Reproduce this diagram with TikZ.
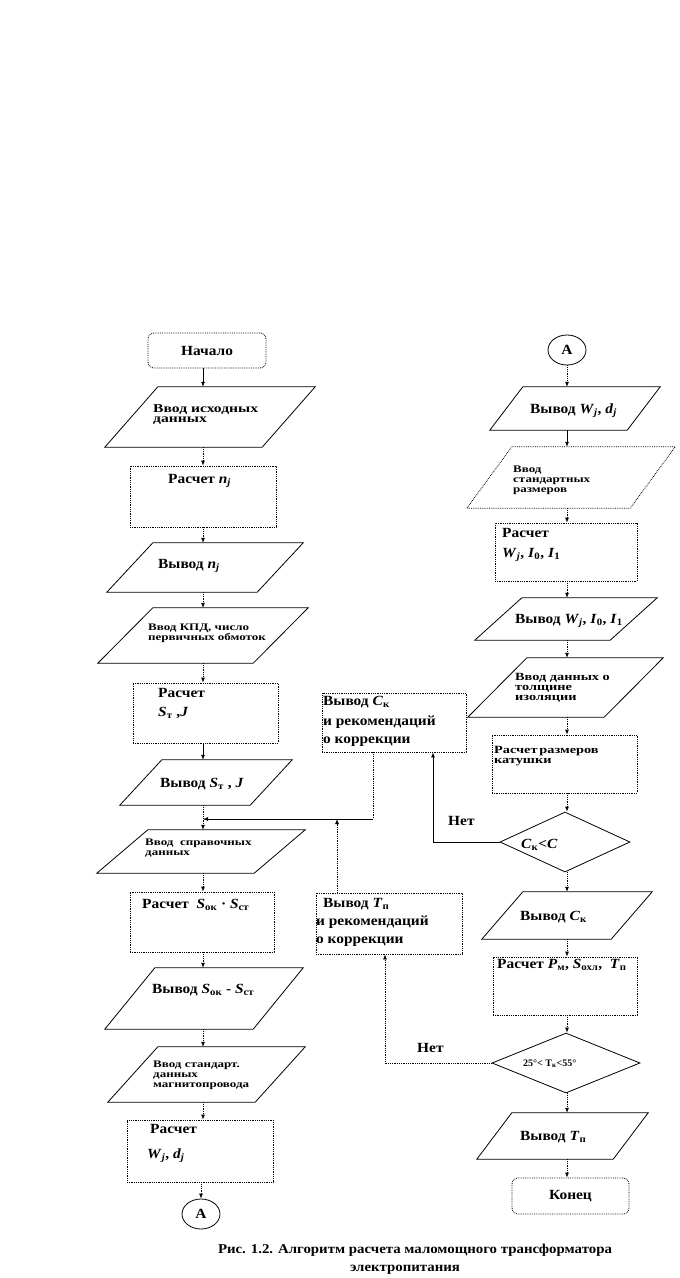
\documentclass[tikz,border=0pt]{standalone}
\usepackage{fontspec}
\setmainfont{Liberation Serif}
\newfontfamily\capfont[FakeStretch=1.1]{Liberation Serif}
\newfontfamily\widefont[FakeStretch=1.3]{Liberation Serif}
\usetikzlibrary{arrows.meta,shapes.geometric}
\newcommand{\fvar}[2]{\textit{#1}\textsubscript{\textit{#2}}}
\newcommand{\rvar}[2]{\textit{#1}\textsubscript{#2}}
% parallelogram drawn on the frame of a named node
\newcommand{\ioframe}[3][]{\draw[thinline,#1] ([xshift=#3]#2.north west) -- (#2.north east) -- ([xshift=-#3]#2.south east) -- (#2.south west) -- cycle;}

\begin{document}
\begin{tikzpicture}[x=1pt,y=-1pt]
\tikzset{
  thinline/.style={line width=0.8pt},
  procbox/.style={rectangle,draw,thinline,densely dotted,inner sep=0},
  termbox/.style={procbox,rounded corners=6pt,font=\capfont\bfseries\fontsize{14}{16}\selectfont},
  iobox/.style={rectangle,inner sep=0},
  decision/.style={diamond,draw,thinline,inner sep=0},
  connector/.style={ellipse,draw,thinline,inner sep=0,font=\capfont\bfseries\fontsize{14}{16}\selectfont},
  bigtext/.style={font=\capfont\bfseries\fontsize{14}{16}\selectfont,anchor=base west,inner sep=0},
  smalltext/.style={font=\widefont\bfseries\fontsize{#1}{10}\selectfont,anchor=north west,inner sep=0,align=left},
  flow/.style={-{Latex[length=5pt,width=4pt]},thinline,densely dotted},
  flowsolid/.style={-{Latex[length=5pt,width=4pt]},thinline}
}
\fill[white] (0,0) rectangle (680,1278);
\useasboundingbox (0,0) rectangle (680,1278);
\coordinate (colL) at (203,0);
\coordinate (colR) at (567,0);

% left column
\node[termbox,minimum width=118,minimum height=35] (n_start) at (207,350.5) {Начало};
\node[iobox,minimum width=210,minimum height=60] (n_in1) at (210,417) {};
\ioframe{n_in1}{53}
\node[smalltext=12] (t_in1) at (153,404) {Ввод исходных\\данных};
\node[procbox,minimum width=146,minimum height=61] (n_calc1) at (203,496.5) {};
\node[bigtext] (t_calc1) at (168,483) {Расчет \fvar{n}{j}};
\node[iobox,minimum width=196,minimum height=49] (n_out1) at (205,567.5) {};
\ioframe{n_out1}{46}
\node[bigtext] (t_out1) at (158,568) {Вывод \fvar{n}{j}};
\node[iobox,minimum width=210,minimum height=55] (n_in2) at (203,635.5) {};
\ioframe{n_in2}{55}
\node[smalltext=10] (t_in2) at (148,623.4) {Ввод КПД, число\\первичных обмоток};
\node[procbox,minimum width=145,minimum height=60] (n_calc2) at (205.5,713) {};
\node[bigtext] (t_calc2a) at (158,697) {Расчет};
\node[bigtext] (t_calc2b) at (158,716) {\rvar{S}{т} ,\textit{J}};
\node[iobox,minimum width=172,minimum height=45] (n_out2) at (206,782.5) {};
\ioframe{n_out2}{42}
\node[bigtext] (t_out2) at (160,787) {Вывод \rvar{S}{т} , \textit{J}};
\node[iobox,minimum width=208,minimum height=43] (n_in3) at (201,851.5) {};
\ioframe{n_in3}{51}
\node[smalltext=10] (t_in3) at (145,838.4) {Ввод\ \ справочных\\данных};
\node[procbox,minimum width=144,minimum height=60] (n_calc3) at (202,922) {};
\node[bigtext] (t_calc3) at (142,908) {Расчет\ \ \rvar{S}{ок} · \rvar{S}{ст}};
\node[iobox,minimum width=198,minimum height=61] (n_out3) at (204,998.5) {};
\ioframe{n_out3}{50}
\node[bigtext] (t_out3) at (152,993) {Вывод \rvar{S}{ок} - \rvar{S}{ст}};
\node[iobox,minimum width=197,minimum height=55] (n_in4) at (206.5,1074.5) {};
\ioframe{n_in4}{50}
\node[smalltext=10] (t_in4) at (153,1060.4) {Ввод стандарт.\\данных\\магнитопровода};
\node[procbox,minimum width=146,minimum height=62] (n_calc4) at (200,1151) {};
\node[bigtext] (t_calc4a) at (150,1133) {Расчет};
\node[bigtext] (t_calc4b) at (147,1158) {\fvar{W}{j}, \fvar{d}{j}};
\node[connector,minimum width=38,minimum height=30] (n_conA1) at (201,1214) {А};

% right column
\node[connector,minimum width=38,minimum height=30] (n_conA2) at (567,350) {А};
\node[iobox,minimum width=170,minimum height=43] (n_out4) at (575,408.5) {};
\ioframe{n_out4}{33}
\node[bigtext] (t_out4) at (530,413) {Вывод \fvar{W}{j}, \fvar{d}{j}};
\node[iobox,minimum width=208,minimum height=61] (n_in5) at (571,477.5) {};
\ioframe[densely dotted]{n_in5}{45}
\node[smalltext=10] (t_in5) at (513,465.4) {Ввод\\стандартных\\размеров};
\node[procbox,minimum width=142,minimum height=58] (n_calc5) at (566,552) {};
\node[bigtext] (t_calc5a) at (502,537) {Расчет};
\node[bigtext] (t_calc5b) at (502,557) {\fvar{W}{j}, \textit{I}\textsubscript{0}, \textit{I}\textsubscript{1}};
\node[iobox,minimum width=182,minimum height=42] (n_out5) at (566,619) {};
\ioframe{n_out5}{47}
\node[bigtext] (t_out5) at (515,623) {Вывод \fvar{W}{j}, \textit{I}\textsubscript{0}, \textit{I}\textsubscript{1}};
\node[iobox,minimum width=195,minimum height=59] (n_in6) at (565.5,687.5) {};
\ioframe{n_in6}{59}
\node[smalltext=11] (t_in6) at (515,672.7) {Ввод данных о\\толщине\\изоляции};
\node[procbox,minimum width=145,minimum height=58] (n_calc6) at (564.5,764) {};
\node[smalltext=11] (t_calc6) at (494,745.7) {Расчет\,размеров\\катушки};
\node[decision,minimum width=130,minimum height=60] (n_dec1) at (565,842) {};
\node[bigtext] (t_dec1) at (521,848) {\rvar{C}{к}<\textit{C}};
\node[iobox,minimum width=170,minimum height=47] (n_out6) at (567,915.5) {};
\ioframe{n_out6}{41}
\node[bigtext] (t_out6) at (520,920) {Вывод \rvar{C}{к}};
\node[procbox,minimum width=144,minimum height=58] (n_calc7) at (565,986) {};
\node[bigtext] (t_calc7) at (497,968) {Расчет \rvar{P}{м}, \rvar{S}{охл},\ \ \rvar{T}{п}};
\node[decision,minimum width=148,minimum height=60] (n_dec2) at (566,1063) {};
\node[bigtext,font=\bfseries\fontsize{10}{10}\selectfont] (t_dec2) at (523,1066) {25°< T\textsubscript{к}<55°};
\node[iobox,minimum width=171,minimum height=46] (n_out7) at (562.5,1136) {};
\ioframe{n_out7}{35}
\node[bigtext] (t_out7) at (520,1140) {Вывод \rvar{T}{п}};
\node[termbox,minimum width=117,minimum height=36] (n_stop) at (570.5,1196) {Конец};

% correction boxes
\node[procbox,minimum width=144,minimum height=59] (n_rec1) at (394,722.5) {};
\node[bigtext] (t_rec1a) at (323,705) {Вывод \rvar{C}{к}};
\node[bigtext] (t_rec1b) at (323,725) {и рекомендаций};
\node[bigtext] (t_rec1c) at (323,743) {о коррекции};
\node[procbox,minimum width=146,minimum height=61] (n_rec2) at (389,923.5) {};
\node[bigtext] (t_rec2a) at (323,907) {Вывод \rvar{T}{п}};
\node[bigtext] (t_rec2b) at (316,925) {и рекомендаций};
\node[bigtext] (t_rec2c) at (316,943) {о коррекции};
\node[bigtext] (t_no1) at (448,825) {Нет};
\node[bigtext] (t_no2) at (417,1052) {Нет};

% caption
\node[bigtext,anchor=base,font=\capfont\bfseries\fontsize{13.5}{16}\selectfont] (t_cap1) at (415,1253) {Рис. 1.2. Алгоритм расчета маломощного трансформатора};
\node[bigtext,anchor=base,font=\capfont\bfseries\fontsize{13.5}{16}\selectfont] (t_cap2) at (405,1271) {электропитания};

% left flow
\draw[flowsolid] (n_start.south -| colL) -- (n_in1.north -| colL);
\draw[flow] (n_in1.south -| colL) -- (n_calc1.north -| colL);
\draw[flow] (n_calc1.south -| colL) -- (n_out1.north -| colL);
\draw[flow] (n_out1.south -| colL) -- (n_in2.north -| colL);
\draw[flow] (n_in2.south -| colL) -- (n_calc2.north -| colL);
\draw[flowsolid] (n_calc2.south -| colL) -- (n_out2.north -| colL);
\draw[flow] (n_out2.south -| colL) -- (n_in3.north -| colL);
\draw[flow] (n_in3.south -| colL) -- (n_calc3.north -| colL);
\draw[flow] (n_calc3.south -| colL) -- (n_out3.north -| colL);
\draw[flow] (n_out3.south -| colL) -- (n_in4.north -| colL);
\draw[flow] (n_in4.south -| colL) -- (n_calc4.north -| colL);
\draw[flow] (n_calc4.south -| n_conA1) -- (n_conA1.north);

% right flow
\draw[flow] (n_conA2.south) -- (n_out4.north -| n_conA2);
\draw[flowsolid] (n_out4.south -| colR) -- (n_in5.north -| colR);
\draw[flow] (n_in5.south -| colR) -- (n_calc5.north -| colR);
\draw[flow] (n_calc5.south -| colR) -- (n_out5.north -| colR);
\draw[flow] (n_out5.south -| colR) -- (n_in6.north -| colR);
\draw[flow] (n_in6.south -| colR) -- (n_calc6.north -| colR);
\draw[flow] (n_calc6.south -| colR) -- (n_dec1.north -| colR);
\draw[flow] (n_dec1.south -| colR) -- (n_out6.north -| colR);
\draw[flow] (n_out6.south -| colR) -- (n_calc7.north -| colR);
\draw[flow] (n_calc7.south -| colR) -- (n_dec2.north -| colR);
\draw[flow] (n_dec2.south -| colR) -- (n_out7.north -| colR);
\draw[flow] (n_out7.south -| colR) -- (n_stop.north -| colR);

% return branches
\coordinate (n_join) at (373,819);
\coordinate (n_back1) at (433,0);
\coordinate (n_back2) at (385,0);
\coordinate (n_up) at (337,0);
\draw[thinline,densely dotted] (n_join |- n_rec1.south) -- (n_join);
\draw[flowsolid] (n_join) -- (colL |- n_join);
\draw[flowsolid] (n_dec1.west) -| (n_back1 |- n_rec1.south);
\draw[flow] (n_dec2.west) -| (n_back2 |- n_rec2.south);
\draw[flow] (n_up |- n_rec2.north) -- (n_up |- n_join);
\end{tikzpicture}
\end{document}
